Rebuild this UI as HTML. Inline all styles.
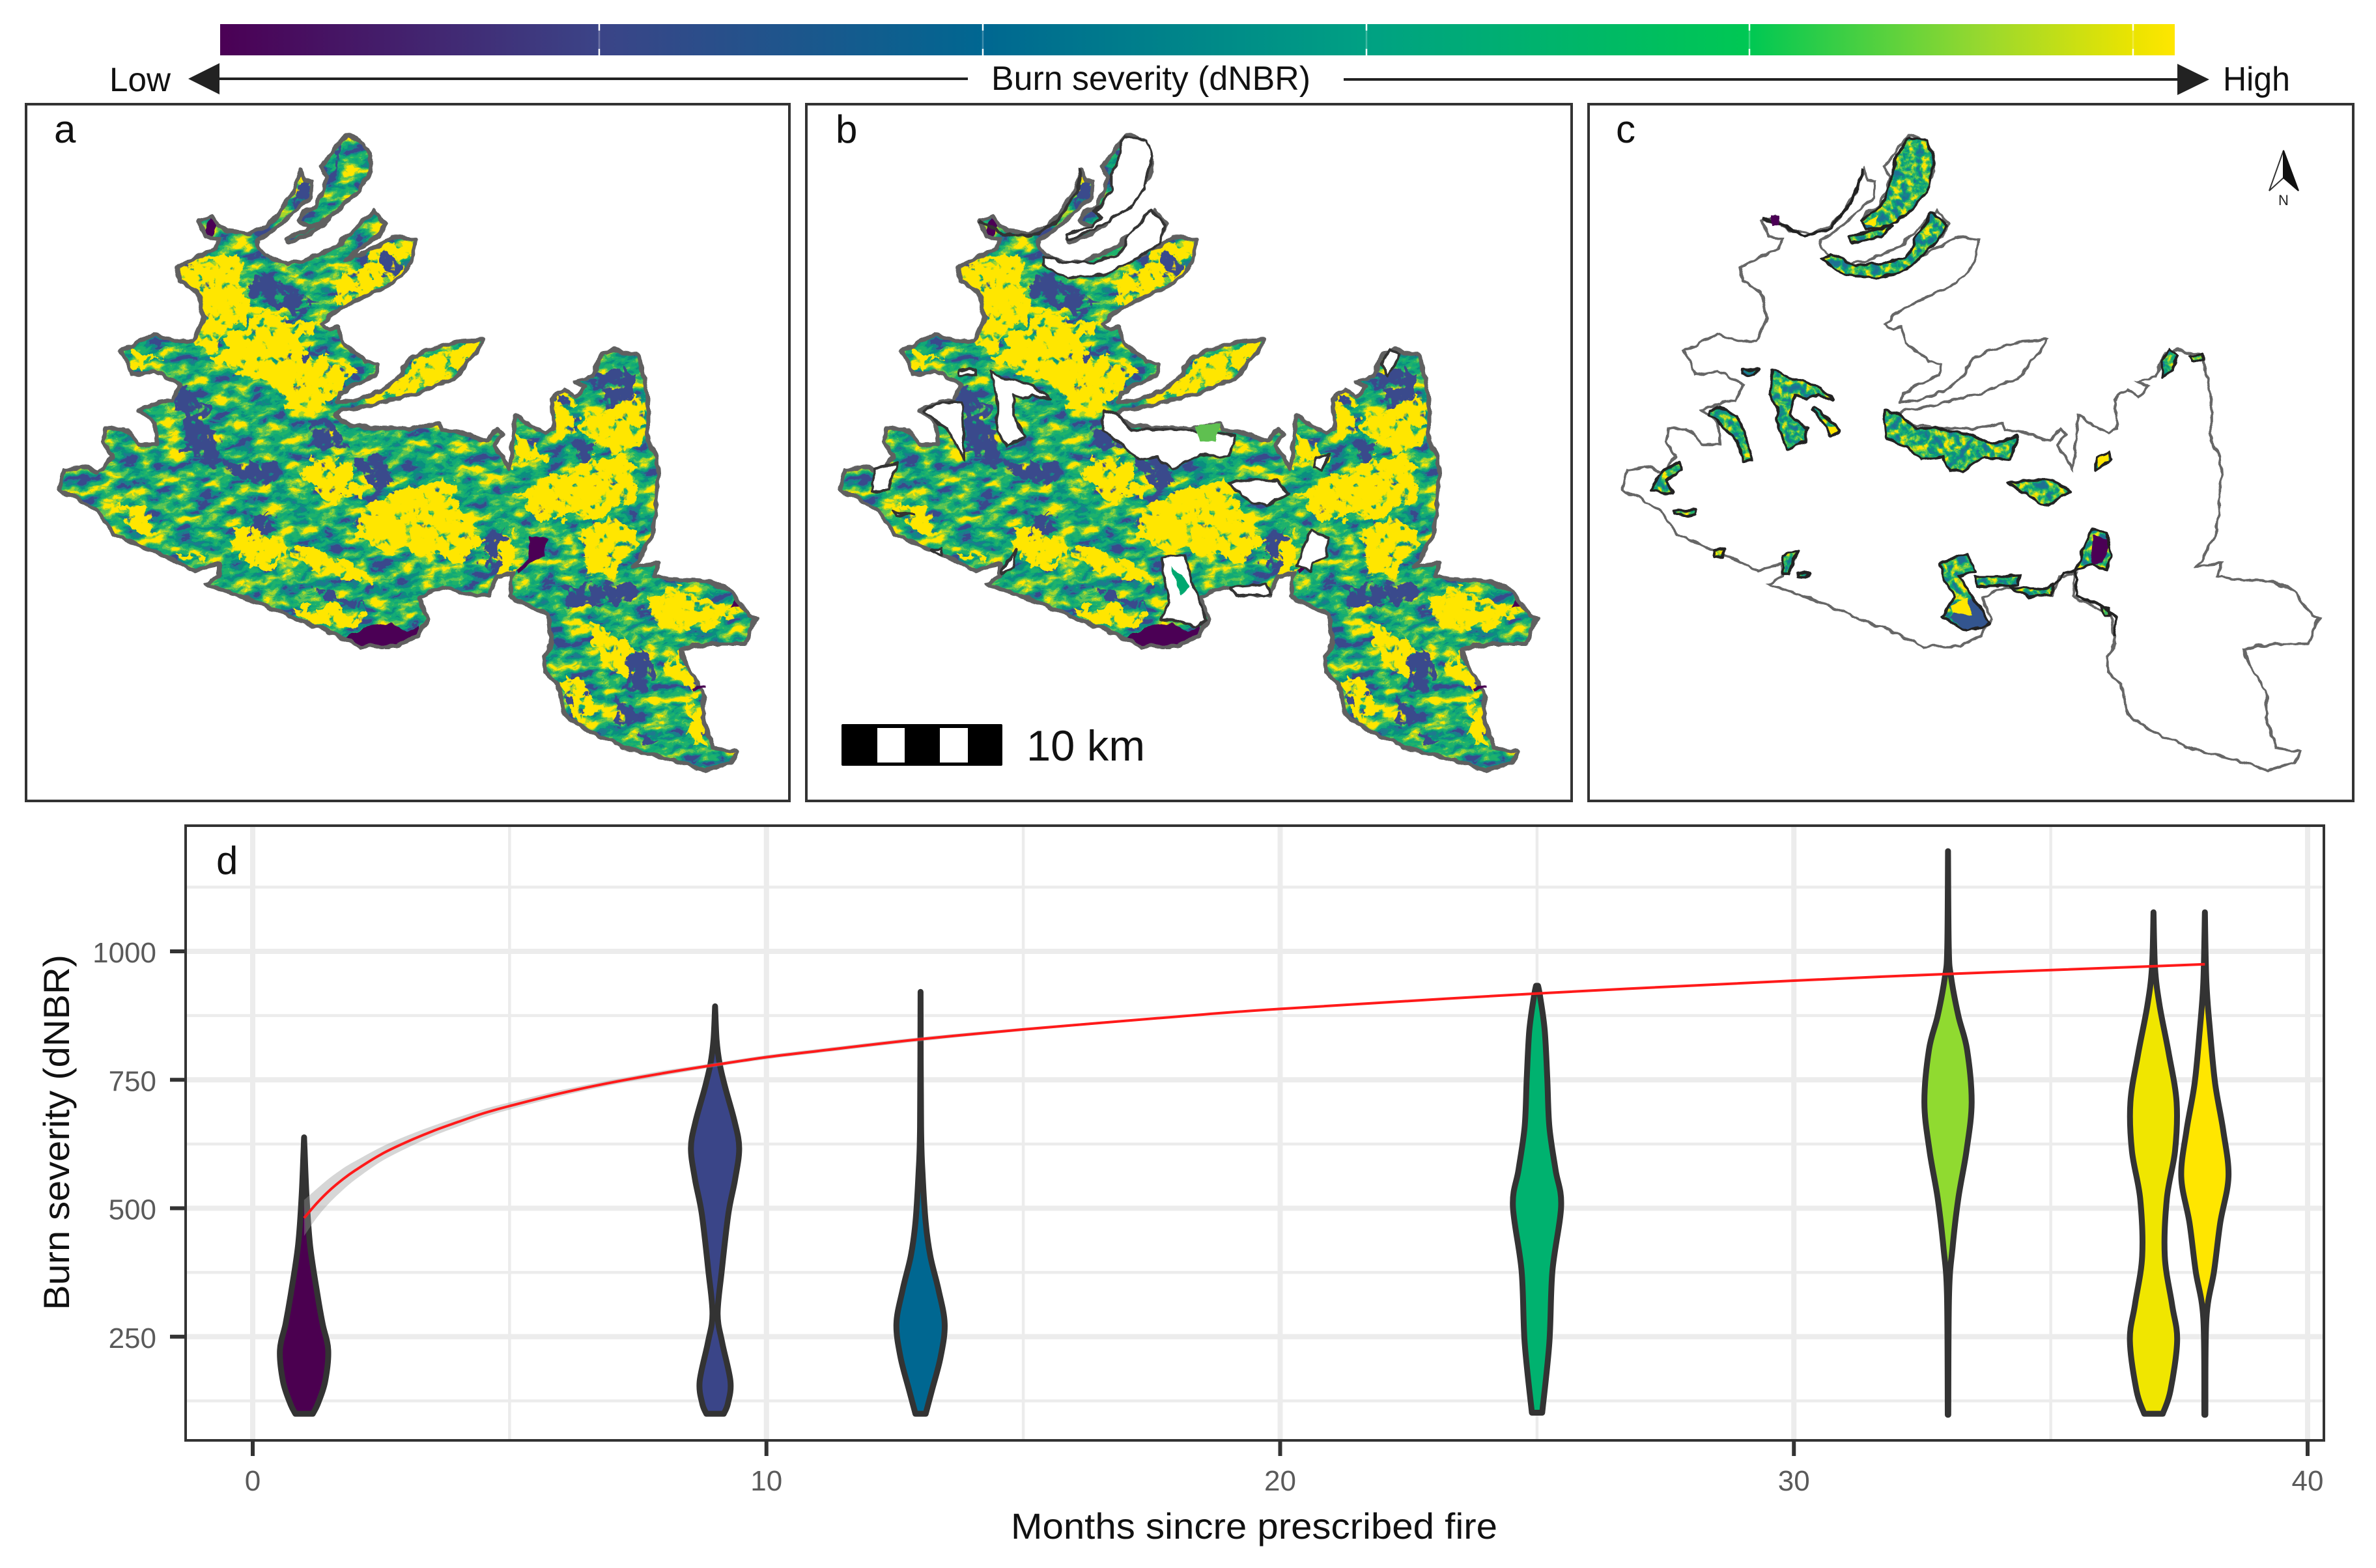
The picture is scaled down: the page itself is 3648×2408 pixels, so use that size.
<!DOCTYPE html>
<html lang="en">
<head>
<meta charset="utf-8">
<title>Burn severity maps and violin chart</title>
<style>
html,body{margin:0;padding:0;background:#fff}
svg{display:block}
text{font-family:"Liberation Sans",Arial,sans-serif}
</style>
</head>
<body>
<svg xmlns="http://www.w3.org/2000/svg" width="3648" height="2408" viewBox="0 0 3648 2408">
<defs>
  <linearGradient id="cbar" x1="0" x2="1" y1="0" y2="0">
    <stop offset="0" stop-color="#4b0055"/>
    <stop offset="0.194" stop-color="#3b4487"/>
    <stop offset="0.39" stop-color="#006791"/>
    <stop offset="0.587" stop-color="#00a183"/>
    <stop offset="0.783" stop-color="#00c853"/>
    <stop offset="0.9" stop-color="#96d82f"/>
    <stop offset="0.98" stop-color="#ece400"/>
    <stop offset="1" stop-color="#ffe600"/>
  </linearGradient>

  <path id="burn-outline" d="M385 425 410 418 425 435 445 445 480 450 510 440 540 415 565 375 585 325 590 345 607 350 605 380 570 410 535 440 510 455 500 462 505 480 515 492 560 508 610 495 660 470 700 430 725 405 748 432 735 455 700 478 672 500 700 490 740 470 760 455 808 462 800 500 780 530 745 555 700 575 650 598 625 625 640 635 655 630 665 660 690 680 710 695 735 700 730 725 690 740 660 760 655 775 700 770 740 750 770 730 795 690 830 675 885 658 938 655 925 680 900 705 880 730 840 745 790 765 740 775 700 785 665 790 650 800 680 820 740 825 800 825 855 815 860 830 900 835 945 850 965 825 975 835 960 860 975 880 990 905 1000 800 1020 815 1060 835 1075 825 1072 770 1095 750 1118 765 1135 745 1115 735 1150 725 1170 680 1195 672 1240 685 1250 730 1258 780 1258 850 1275 880 1278 930 1270 1020 1250 1060 1230 1090 1280 1085 1270 1110 1300 1115 1380 1120 1420 1140 1455 1185 1468 1190 1445 1240 1380 1240 1320 1250 1345 1300 1365 1330 1365 1380 1385 1440 1430 1448 1420 1470 1370 1485 1330 1470 1210 1440 1130 1400 1095 1375 1085 1320 1060 1295 1055 1265 1070 1240 1065 1185 1000 1155 990 1145 995 1105 965 1110 950 1145 900 1145 860 1130 815 1150 830 1195 810 1225 770 1245 700 1245 660 1225 570 1190 500 1160 400 1125 425 1110 425 1085 380 1100 330 1075 270 1050 220 1030 190 985 150 960 115 945 125 905 160 900 190 910 220 880 200 850 205 825 240 825 270 855 305 855 300 815 270 790 310 775 335 770 350 740 300 715 258 722 235 675 265 660 300 645 340 655 375 655 395 620 385 565 350 540 345 515 380 495 420 478 425 460 400 455Z M622 320 640 300 672 260 700 270 718 295 720 330 695 370 650 410 610 445 560 468 555 458 590 445 630 425 600 435 580 425 590 410 615 395 625 370 635 340Z"/>
  <clipPath id="burn-clip"><use href="#burn-outline"/></clipPath>

  <path id="c-patches" d="M645 265 680 270 695 310 680 370 640 415 600 435 560 440 550 425 590 400 610 350 620 300Z M525 455 610 435 590 455 530 468Z M690 410 722 435 700 465 640 520 580 538 510 525 472 500 490 490 540 512 600 505 640 495 670 440Z M375 712 420 730 470 745 495 770 465 760 440 770 420 760 410 800 445 825 440 850 405 865 385 825 385 790 370 760Z M460 785 490 810 508 828 490 840 480 820 455 790Z M315 712 348 712 340 722 315 722Z M250 790 270 785 305 800 322 840 335 885 320 890 305 850 270 815 250 800Z M595 790 620 795 660 825 710 825 770 840 810 855 860 840 845 885 790 880 750 910 725 905 710 880 670 885 640 860 600 845Z M840 930 900 925 930 925 965 945 920 975 890 960Z M1015 880 1040 870 1045 885 1015 905Z M985 1065 1005 1020 1035 1025 1045 1070 1035 1100 1005 1085 975 1100Z M705 1085 760 1068 775 1100 745 1110 770 1150 805 1200 760 1215 710 1190 735 1150 715 1120Z M775 1110 830 1110 865 1108 860 1125 820 1130 780 1130Z M845 1130 910 1135 930 1125 925 1145 880 1152Z M1145 695 1160 672 1175 685 1165 710 1145 728Z M1200 685 1225 680 1225 695 1205 695Z M135 945 150 915 190 890 195 905 165 925 178 950 140 945Z M180 985 225 980 225 992 180 992Z M260 1060 280 1055 275 1072 260 1072Z M395 1070 425 1060 410 1105 395 1105Z M425 1105 450 1105 440 1113 425 1112Z M1025 1170 1040 1170 1040 1185 1030 1185Z"/>
  <clipPath id="c-clip"><use href="#c-patches"/></clipPath>

  <filter id="rough" filterUnits="userSpaceOnUse" x="0" y="150" width="1568" height="1400" color-interpolation-filters="sRGB">
    <feTurbulence type="fractalNoise" baseFrequency="0.045" numOctaves="2" seed="4" result="n"/>
    <feDisplacementMap in="SourceGraphic" in2="n" scale="11" xChannelSelector="R" yChannelSelector="G"/>
  </filter>
  <filter id="mottle" filterUnits="userSpaceOnUse" x="-100" y="100" width="1800" height="1600" color-interpolation-filters="sRGB">
    <feTurbulence type="fractalNoise" baseFrequency="0.022 0.045" numOctaves="6" seed="11"/>
    <feColorMatrix type="matrix" values="1 0 0 0 0 1 0 0 0 0 1 0 0 0 0 0 0 0 0 1"/>
    <feComponentTransfer>
      <feFuncR type="discrete" tableValues="0.23 0.23 0.23 0.23 0.23 0.12 0.04 0.07 0.12 0.36 0.65 1 1 1 1 1"/>
      <feFuncG type="discrete" tableValues="0.29 0.29 0.29 0.29 0.29 0.48 0.56 0.66 0.7 0.77 0.84 0.9 0.9 0.9 0.9 0.9"/>
      <feFuncB type="discrete" tableValues="0.55 0.55 0.55 0.55 0.55 0.56 0.5 0.47 0.42 0.33 0.18 0 0 0 0 0"/>
      <feFuncA type="linear" slope="0" intercept="1"/>
    </feComponentTransfer>
  </filter>
  <filter id="mottle-c" filterUnits="userSpaceOnUse" x="60" y="240" width="1420" height="1000" color-interpolation-filters="sRGB">
    <feTurbulence type="fractalNoise" baseFrequency="0.07" numOctaves="4" seed="7"/>
    <feColorMatrix type="matrix" values="1 0 0 0 0 1 0 0 0 0 1 0 0 0 0 0 0 0 0 1"/>
    <feComponentTransfer>
      <feFuncR type="discrete" tableValues="0.12 0.12 0.12 0.12 0.12 0.1 0.04 0.07 0.2 0.45 0.72 1 1 1 1 1"/>
      <feFuncG type="discrete" tableValues="0.44 0.44 0.44 0.44 0.44 0.5 0.58 0.66 0.72 0.8 0.85 0.9 0.9 0.9 0.9 0.9"/>
      <feFuncB type="discrete" tableValues="0.58 0.58 0.58 0.58 0.58 0.56 0.5 0.47 0.38 0.28 0.15 0 0 0 0 0"/>
      <feFuncA type="linear" slope="0" intercept="1"/>
    </feComponentTransfer>
  </filter>
  <filter id="blob" filterUnits="userSpaceOnUse" x="0" y="150" width="1568" height="1400" color-interpolation-filters="sRGB">
    <feTurbulence type="fractalNoise" baseFrequency="0.03" numOctaves="5" seed="31" result="warp"/>
    <feDisplacementMap in="SourceGraphic" in2="warp" scale="48" xChannelSelector="R" yChannelSelector="G" result="moved"/>
    <feTurbulence type="fractalNoise" baseFrequency="0.05" numOctaves="4" seed="21"/>
    <feColorMatrix type="matrix" values="0 0 0 0 0 0 0 0 0 0 0 0 0 0 0 10 0 0 0 -2.9" result="m"/>
    <feComposite in="moved" in2="m" operator="in"/>
  </filter>
  <filter id="blob-blue" filterUnits="userSpaceOnUse" x="0" y="150" width="1568" height="1400" color-interpolation-filters="sRGB">
    <feTurbulence type="fractalNoise" baseFrequency="0.03" numOctaves="5" seed="47" result="warp"/>
    <feDisplacementMap in="SourceGraphic" in2="warp" scale="45" xChannelSelector="R" yChannelSelector="G" result="moved"/>
    <feTurbulence type="fractalNoise" baseFrequency="0.06" numOctaves="4" seed="53"/>
    <feColorMatrix type="matrix" values="0 0 0 0 0 0 0 0 0 0 0 0 0 0 0 10 0 0 0 -3" result="m"/>
    <feComposite in="moved" in2="m" operator="in"/>
  </filter>

  <g id="burn-map">
    <g filter="url(#rough)">
      <g clip-path="url(#burn-clip)">
        <rect x="-100" y="100" width="1800" height="1600" fill="#00a870" filter="url(#mottle)" transform="rotate(-8 800 850)"/>
        <g fill="#ffe600" filter="url(#blob)">
          <path d="M345 515 420 480 465 500 470 560 490 590 525 590 490 610 450 640 410 680 380 660 395 620 385 565 350 540Z"/>
          <path d="M525 590 560 615 620 630 580 660 600 680 660 700 690 720 640 770 610 790 560 790 540 750 480 720 410 690 450 650 490 620Z"/>
          <path d="M660 530 710 510 745 470 805 465 790 520 740 555 660 590 640 580Z"/>
          <path d="M680 1020 720 970 760 950 810 940 860 920 890 950 880 985 930 1010 930 1060 880 1085 830 1060 760 1070 700 1040Z"/>
          <path d="M600 880 650 875 690 900 700 960 640 960 600 930Z"/>
          <path d="M1075 770 1095 755 1110 790 1115 815 1090 860 1075 840Z"/>
          <path d="M1130 800 1180 790 1250 755 1255 850 1200 870 1130 840Z"/>
          <path d="M1000 960 1060 920 1140 890 1200 870 1240 900 1230 960 1150 1000 1060 1000Z"/>
          <path d="M1130 1030 1180 1000 1240 1010 1230 1060 1190 1110 1140 1105Z"/>
          <path d="M800 700 840 680 930 660 900 710 840 740 790 760 680 780 770 730Z"/>
          <path d="M560 1050 620 1060 700 1090 730 1130 650 1110 570 1080Z"/>
          <path d="M570 1165 640 1165 700 1180 710 1200 640 1215 590 1190Z"/>
          <path d="M1300 1130 1400 1160 1420 1190 1370 1210 1300 1215 1250 1170Z"/>
          <path d="M1290 1270 1320 1260 1350 1320 1340 1330 1300 1310Z"/>
          <path d="M1330 1340 1360 1350 1380 1440 1340 1430Z"/>
          <path d="M1150 1200 1210 1240 1250 1300 1220 1320 1160 1260Z"/>
          <path d="M1100 1300 1180 1370 1130 1380 1090 1330Z"/>
          <path d="M220 960 290 990 300 1030 250 1010Z"/>
          <path d="M340 1060 400 1075 380 1095Z"/>
          <path d="M450 1000 560 1040 520 1100 450 1060Z"/>
          <path d="M240 680 300 690 330 680 260 710Z"/>
          <path d="M1000 830 1050 850 1060 880 1000 900Z"/>
          <path d="M950 1030 1000 1020 1000 1100 970 1100Z"/>
          <path d="M780 990 840 960 920 1010 900 1070 800 1040Z"/>
        </g>
        <g fill="#3a4a8c" filter="url(#blob-blue)">
          <path d="M350 730 390 780 420 830 420 890 390 900 360 870 350 800Z"/>
          <path d="M440 880 470 890 540 890 550 920 500 930 440 915Z"/>
          <path d="M690 885 730 880 760 930 730 950 700 920Z"/>
          <path d="M1150 730 1195 705 1235 720 1235 755 1180 785Z"/>
          <path d="M735 505 760 480 778 525 750 535Z"/>
          <path d="M475 990 530 990 530 1020 480 1030Z"/>
          <path d="M600 810 640 810 680 860 620 870Z"/>
          <path d="M500 520 560 560 620 590 570 610 490 570Z"/>
          <path d="M1115 860 1150 840 1150 870 1130 890Z"/>
          <path d="M940 1040 970 1010 970 1090 940 1095Z"/>
          <path d="M1090 1120 1250 1130 1200 1170 1100 1170Z"/>
          <path d="M1230 1240 1280 1290 1260 1340 1210 1320Z"/>
          <path d="M1250 1400 1280 1430 1240 1430Z"/>
          <path d="M1100 1320 1130 1370 1100 1360Z"/>
          <path d="M1190 1340 1240 1380 1200 1400Z"/>
          <path d="M600 1130 690 1150 710 1170 620 1150Z"/>
          <path d="M580 690 610 660 590 700Z"/>
          <path d="M590 345 607 350 600 390 570 410Z"/>
          <path d="M640 290 665 265 640 340Z"/>
        </g>
        <g fill="#4b0055">
          <path d="M670 1230 710 1205 760 1200 790 1215 815 1205 815 1220 770 1245 700 1245Z"/>
          <path d="M1030 1032 1065 1040 1055 1075 1030 1085 1005 1105 1000 1100 1025 1075Z"/>
          <path d="M1420 1170 1432 1140 1445 1165Z"/>
          <path d="M395 450 410 420 420 435 410 455Z"/>
        </g>
      </g>
      <use href="#burn-outline" fill="none" stroke="#606060" stroke-width="8" stroke-linejoin="round"/>
      <path d="M1345 1326 1372 1322" fill="none" stroke="#4b0055" stroke-width="5"/>
    </g>
  </g>
</defs>

<rect x="0" y="0" width="3648" height="2408" fill="#ffffff"/>

<!-- colour bar legend -->
<g>
  <rect x="338" y="37" width="3001" height="48" fill="url(#cbar)"/>
  <g stroke="#ffffff" stroke-width="2.5">
    <path d="M920 37V47M920 75V85M1509 37V47M1509 75V85M2098 37V47M2098 75V85M2686 37V47M2686 75V85M3275 37V47M3275 75V85"/>
    <path opacity="0.25" d="M920 47V75M1509 47V75M2098 47V75M2686 47V75M3275 47V75"/>
  </g>
</g>
<g>
  <path d="M336 121H1486" stroke="#222" stroke-width="4" fill="none"/>
  <path d="M2063 122H3343" stroke="#222" stroke-width="4" fill="none"/>
  <polygon points="289,121 337,97 337,145" fill="#222"/>
  <polygon points="3392,122 3343,98 3343,146" fill="#222"/>
  <text x="168" y="140" font-size="52" textLength="94" lengthAdjust="spacingAndGlyphs" fill="#111">Low</text>
  <text x="1522" y="138" font-size="52" textLength="490" lengthAdjust="spacingAndGlyphs" fill="#111">Burn severity (dNBR)</text>
  <text x="3413" y="139" font-size="52" textLength="103" lengthAdjust="spacingAndGlyphs" fill="#111">High</text>
</g>

<!-- panel a -->
<g>
  <g transform="scale(0.7908 0.7974)"><use href="#burn-map"/></g>
  <rect x="40" y="160" width="1172" height="1070" fill="none" stroke="#333" stroke-width="4"/>
  <text x="83" y="219" font-size="60" fill="#111">a</text>
</g>

<!-- panel b -->
<g>
  <g transform="translate(1199 0) scale(0.7908 0.7974)"><use href="#burn-map"/></g>
  <g transform="translate(1220 0) scale(0.7782 0.7974)" fill="#ffffff" stroke="#333" stroke-width="5" stroke-linejoin="round">
    <g filter="url(#rough)">
      <path d="M650 262 695 270 705 300 690 360 670 395 620 425 590 440 540 462 540 450 585 435 605 420 590 410 605 395 625 365 625 335 640 300Z"/>
      <path d="M705 405 733 432 720 470 670 500 610 530 540 535 490 510 490 495 530 505 590 505 640 490 670 440Z"/>
      <path d="M385 715 420 730 470 740 505 770 470 760 450 770 430 760 430 800 455 840 420 860 400 830 400 770Z"/>
      <path d="M610 790 640 800 665 830 720 825 790 830 870 840 855 880 800 875 770 890 745 905 715 880 680 885 640 850 610 830Z"/>
      <path d="M855 930 900 925 950 925 975 950 930 975 890 960Z"/>
      <path d="M990 1090 1020 1020 1055 1040 1050 1075 1020 1085 1020 1100Z"/>
      <path d="M725 1075 770 1070 790 1140 815 1195 790 1205 750 1195 720 1195 740 1160 730 1120Z"/>
      <path d="M1030 880 1055 875 1040 905 1025 900Z"/>
      <path d="M255 790 290 775 330 775 335 885 315 850 300 825 275 810Z"/>
      <path d="M160 905 205 890 190 925 185 945 150 945Z"/>
      <path d="M1160 700 1175 672 1195 680 1170 725Z"/>
      <path d="M410 1100 435 1060 430 1095 410 1105Z"/>
      <path d="M270 1060 290 1055 290 1070Z"/>
      <path d="M195 985 235 990 200 992Z"/>
      <path d="M860 1130 930 1125 940 1145 870 1150Z"/>
      <path d="M325 712 358 712 358 722 325 722Z"/>
      <path d="M365 425 410 450 470 455 520 425 555 370 567 325" fill="none" stroke-width="6"/>
      <path d="M745 1090 780 1130 760 1145Z" fill="#00a870" stroke="none"/>
      <path d="M790 820 840 815 830 850 800 850Z" fill="#5fc050" stroke="none"/>
    </g>
  </g>
  <rect x="1238" y="160" width="1175" height="1070" fill="none" stroke="#333" stroke-width="4"/>
  <text x="1283" y="219" font-size="60" fill="#111">b</text>
  <g>
    <rect x="1292" y="1112" width="247" height="64" rx="2" fill="#000"/>
    <rect x="1347" y="1118" width="42" height="53" fill="#fff"/>
    <rect x="1443" y="1118" width="43" height="53" fill="#fff"/>
    <text x="1576" y="1168" font-size="66" textLength="182" lengthAdjust="spacingAndGlyphs" fill="#111">10 km</text>
  </g>
</g>

<!-- panel c -->
<g>
  <g transform="translate(2400 0) scale(0.7908 0.7974)">
    <g filter="url(#rough)"><use href="#burn-outline" fill="none" stroke="#666" stroke-width="5"/></g>
  </g>
  <g transform="translate(2430 0) scale(0.777 0.7974)">
    <g filter="url(#rough)">
      <g clip-path="url(#c-clip)">
        <rect x="60" y="240" width="1420" height="1000" fill="#00a870" filter="url(#mottle-c)"/>
        <path d="M740 1170 775 1150 805 1200 760 1215 725 1190Z" fill="#33558f"/>
        <path d="M730 1165 760 1150 770 1185 730 1180Z" fill="#ffe600"/>
        <path d="M1010 1030 1045 1040 1025 1085 1005 1085Z" fill="#4b0055"/>
        <path d="M1015 880 1040 870 1040 885 1020 900Z" fill="#ffe600"/>
        <path d="M480 820 505 825 495 840Z" fill="#ffe600"/>
        <path d="M555 430 585 415 575 435Z" fill="#ffe600"/>
      </g>
      <use href="#c-patches" fill="none" stroke="#222" stroke-width="5" stroke-linejoin="round"/>
      <path d="M355 420 385 430 440 455 490 440 530 390 555 325" fill="none" stroke="#222" stroke-width="6"/>
      <path d="M925 1140 950 1100 975 1100 975 1145 1030 1170 1055 1190 1050 1225" fill="none" stroke="#222" stroke-width="5"/>
      <rect x="372" y="416" width="16" height="18" fill="#4b0055"/>
    </g>
  </g>
  <rect x="2439" y="160" width="1174" height="1070" fill="none" stroke="#333" stroke-width="4"/>
  <text x="2481" y="219" font-size="60" fill="#111">c</text>
  <g>
    <polygon points="3506,231 3484,293 3506,273" fill="#fff" stroke="#333" stroke-width="2"/>
    <polygon points="3506,231 3529,293 3506,273" fill="#111" stroke="#111" stroke-width="2"/>
    <text x="3506" y="315" font-size="22" text-anchor="middle" fill="#222">N</text>
  </g>
</g>

<!-- panel d chart -->
<g id="chart"></g>
</svg>

<script>
const xMajorTicks = [0, 10, 20, 30, 40];
const xMinorTicks = [5, 15, 25, 35];
const yMajorTicks = [250, 500, 750, 1000];
const yMinorTicks = [125, 375, 625, 875, 1125];

const violinMonths = [1, 9, 13, 25, 33, 37, 38];
const violinFills = ['#4b0050', '#3a4588', '#006791', '#00b26f', '#90da30', '#f0e600', '#ffe600'];

const levels1 = [100, 120, 163, 224, 275, 332, 425, 519, 612, 638];
const density1 = [0.17, 0.27, 0.41, 0.47, 0.36, 0.26, 0.12, 0.05, 0.01, 0];
const levels9 = [100, 120, 163, 238, 294, 378, 490, 556, 617, 669, 734, 781, 828, 893];
const density9 = [0.17, 0.25, 0.3, 0.14, 0.05, 0.13, 0.26, 0.39, 0.47, 0.38, 0.2, 0.09, 0.03, 0];
const levels13 = [100, 145, 210, 275, 341, 407, 472, 566, 659, 921];
const density13 = [0.1, 0.22, 0.39, 0.47, 0.35, 0.19, 0.1, 0.04, 0.01, 0];
const levels25 = [102, 238, 378, 505, 575, 659, 753, 846, 912, 933];
const density25 = [0.1, 0.24, 0.3, 0.47, 0.36, 0.24, 0.2, 0.15, 0.06, 0.02];
const levels33 = [98, 332, 425, 519, 612, 706, 809, 875, 950, 1005, 1195];
const density33 = [0.005, 0.02, 0.09, 0.2, 0.36, 0.46, 0.37, 0.2, 0.06, 0.015, 0];
const levels37 = [100, 145, 243, 313, 407, 519, 612, 706, 800, 894, 968, 1076];
const density37 = [0.18, 0.33, 0.46, 0.36, 0.22, 0.26, 0.42, 0.45, 0.3, 0.12, 0.03, 0];
const levels38 = [98, 285, 378, 472, 561, 650, 743, 846, 940, 1076];
const density38 = [0.01, 0.03, 0.18, 0.3, 0.46, 0.36, 0.2, 0.1, 0.03, 0];

const fitMonths = [1, 1.25, 1.5, 1.75, 2, 2.5, 3, 3.5, 4, 4.5, 5, 6, 7, 8, 9, 10, 11, 13, 15, 18, 20, 25, 30, 33, 37, 38];
const fitValues = [481, 510, 535, 556, 574, 605, 629, 650, 668, 685, 699, 724, 745, 763, 779, 794, 806, 829, 848, 873, 888, 918, 943, 956, 971, 975];
const fitUpper = [516, 538, 559, 577, 592, 619, 641, 660, 677, 693, 706, 730, 750, 768, 783, 798, 810, 833, 851, 875, 890, 920, 945, 958, 973, 977];
const fitLower = [446, 482, 511, 535, 556, 591, 617, 640, 659, 677, 692, 718, 740, 758, 775, 790, 802, 825, 845, 871, 886, 916, 941, 954, 969, 973];

const allLevels = [levels1, levels9, levels13, levels25, levels33, levels37, levels38];
const allDensity = [density1, density9, density13, density25, density33, density37, density38];

const SVGNS = 'http://www.w3.org/2000/svg';
const chart = document.getElementById('chart');
const plotLeft = 285, plotRight = 3568, plotTop = 1268, plotBottom = 2212;
function xScale(m) { return 388 + m * 78.875; }
function yScale(v) { return 1461 + (1000 - v) * 0.789; }

function make(tag, attrs, parent) {
  const el = document.createElementNS(SVGNS, tag);
  for (const k in attrs) el.setAttribute(k, attrs[k]);
  (parent || chart).appendChild(el);
  return el;
}
function spline(pts) {
  let d = '';
  for (let i = 0; i < pts.length - 1; i++) {
    const p0 = pts[Math.max(i - 1, 0)], p1 = pts[i], p2 = pts[i + 1], p3 = pts[Math.min(i + 2, pts.length - 1)];
    const c1x = p1[0] + (p2[0] - p0[0]) / 6, c1y = p1[1] + (p2[1] - p0[1]) / 6;
    const c2x = p2[0] - (p3[0] - p1[0]) / 6, c2y = p2[1] - (p3[1] - p1[1]) / 6;
    d += 'C' + c1x.toFixed(1) + ' ' + c1y.toFixed(1) + ' ' + c2x.toFixed(1) + ' ' + c2y.toFixed(1) + ' ' + p2[0].toFixed(1) + ' ' + p2[1].toFixed(1);
  }
  return d;
}

const bg = make('rect', {x: plotLeft, y: plotTop, width: plotRight - plotLeft, height: plotBottom - plotTop, fill: '#fff'});



xMinorTicks.forEach(function (t) {
  const l = make('line', {x1: xScale(t), x2: xScale(t), y1: plotTop, y2: plotBottom, stroke: '#ececec', 'stroke-width': 4.5});
  
  
});
yMinorTicks.forEach(function (t) {
  const l = make('line', {x1: plotLeft, x2: plotRight, y1: yScale(t), y2: yScale(t), stroke: '#ececec', 'stroke-width': 4.5});
  
  
});
xMajorTicks.forEach(function (t) {
  const l = make('line', {x1: xScale(t), x2: xScale(t), y1: plotTop, y2: plotBottom, stroke: '#ececec', 'stroke-width': 8});
  
  
});
yMajorTicks.forEach(function (t) {
  const l = make('line', {x1: plotLeft, x2: plotRight, y1: yScale(t), y2: yScale(t), stroke: '#ececec', 'stroke-width': 8});
  
  
});

violinMonths.forEach(function (m, i) {
  const levels = allLevels[i], dens = allDensity[i];
  const right = levels.map(function (v, k) { return [xScale(m + dens[k]), yScale(v)]; });
  const left = levels.map(function (v, k) { return [xScale(m - dens[k]), yScale(v)]; }).reverse();
  const d = 'M' + right[0][0].toFixed(1) + ' ' + right[0][1].toFixed(1) + spline(right) +
            'L' + left[0][0].toFixed(1) + ' ' + left[0][1].toFixed(1) + spline(left) + 'Z';
  const v = make('path', {d: d, fill: violinFills[i], stroke: '#333333', 'stroke-width': 9, 'stroke-linejoin': 'round'});
  
  
});

const upperPts = fitMonths.map(function (m, i) { return [xScale(m), yScale(fitUpper[i])]; });
const lowerPts = fitMonths.map(function (m, i) { return [xScale(m), yScale(fitLower[i])]; }).reverse();
const bandPath = 'M' + upperPts[0][0] + ' ' + upperPts[0][1] + spline(upperPts) + 'L' + lowerPts[0][0] + ' ' + lowerPts[0][1] + spline(lowerPts) + 'Z';
const band = make('path', {d: bandPath, fill: '#999999', opacity: 0.4});



const fitPts = fitMonths.map(function (m, i) { return [xScale(m), yScale(fitValues[i])]; });
const fit = make('path', {d: 'M' + fitPts[0][0] + ' ' + fitPts[0][1] + spline(fitPts), fill: 'none', stroke: '#ff1a1a', 'stroke-width': 4});



const frame = make('rect', {x: plotLeft, y: plotTop, width: plotRight - plotLeft, height: plotBottom - plotTop, fill: 'none', stroke: '#333', 'stroke-width': 4});



xMajorTicks.forEach(function (t) {
  const l = make('line', {x1: xScale(t), x2: xScale(t), y1: plotBottom, y2: plotBottom + 24, stroke: '#333', 'stroke-width': 6});
  
  
  const tx = make('text', {x: xScale(t), y: 2289, 'font-size': 44, 'text-anchor': 'middle', fill: '#5a5a5a'});
  tx.textContent = String(t);
  
  
});
yMajorTicks.forEach(function (t) {
  const l = make('line', {x1: plotLeft - 24, x2: plotLeft, y1: yScale(t), y2: yScale(t), stroke: '#333', 'stroke-width': 6});
  
  
  const tx = make('text', {x: 240, y: yScale(t) + 17, 'font-size': 44, 'text-anchor': 'end', fill: '#5a5a5a'});
  tx.textContent = String(t);
  
  
});

const xTitle = make('text', {x: 1552, y: 2363, 'font-size': 56, textLength: 747, lengthAdjust: 'spacingAndGlyphs', fill: '#111'});
xTitle.textContent = 'Months sincre prescribed fire';



const yTitle = make('text', {transform: 'translate(106 2012) rotate(-90)', x: 0, y: 0, 'font-size': 56, textLength: 546, lengthAdjust: 'spacingAndGlyphs', fill: '#111'});
yTitle.textContent = 'Burn severity (dNBR)';



const dLabel = make('text', {x: 332, y: 1342, 'font-size': 60, fill: '#111'});
dLabel.textContent = 'd';


</script>
</body>
</html>
